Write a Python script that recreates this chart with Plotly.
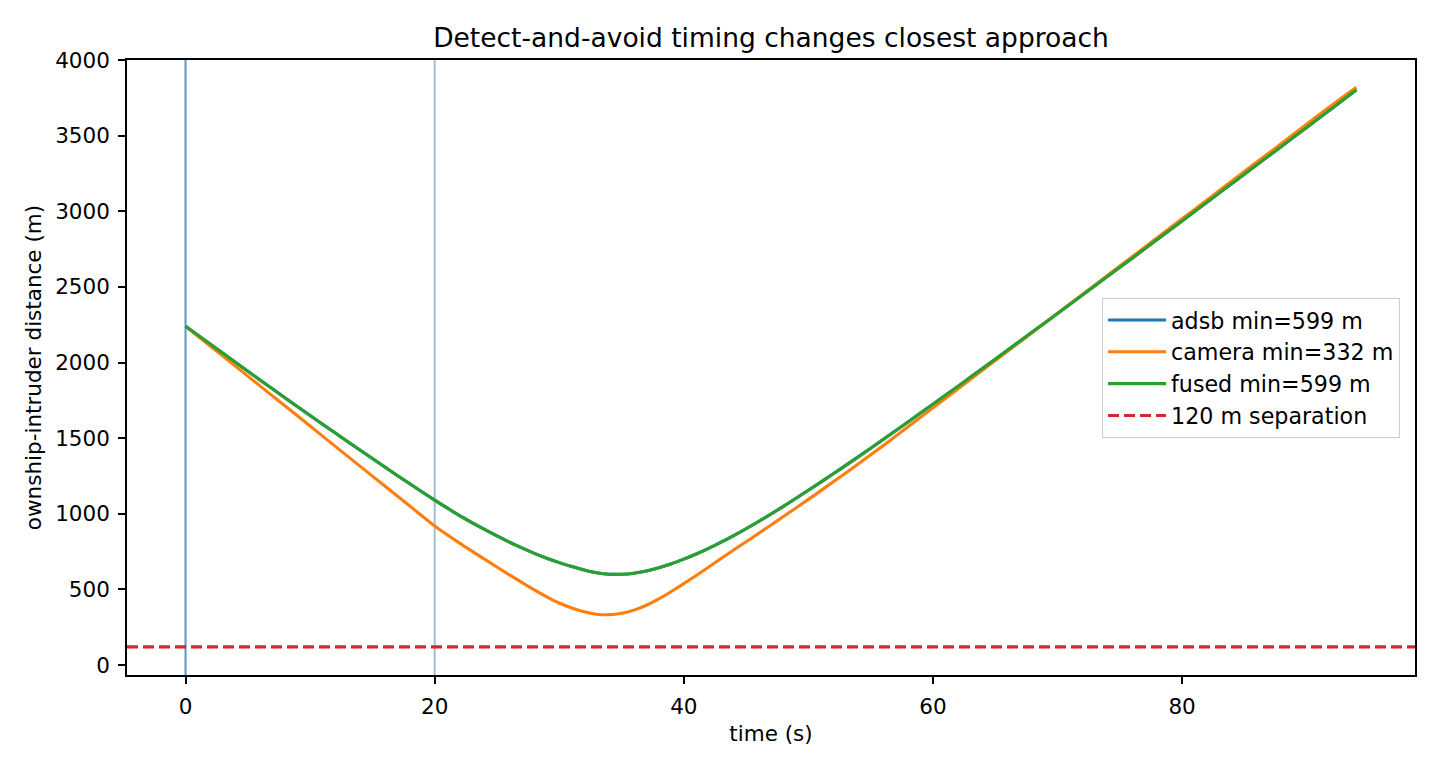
import plotly.graph_objects as go

# ---- data ----
time_s = ([0, 2, 4, 6, 8, 10, 12, 14, 16, 18, 20, 22, 24, 26]
          + [27, 28, 29, 30, 31, 32, 33, 34, 35, 36, 37, 38, 39, 40, 41, 42, 43]
          + [44, 46, 48, 50, 52, 54, 56, 58, 60, 62, 64, 66, 68, 70, 72, 74, 76,
             78, 80, 82, 84, 86, 88, 90, 92, 94])

adsb_m = ([2240, 2120, 2001, 1883, 1766, 1650, 1535, 1421, 1309, 1198, 1090, 988, 896, 812]
          + [774, 738, 706, 677, 651, 628, 610, 600, 600, 607, 622, 643, 669, 700, 734, 771, 812]
          + [855, 949, 1049, 1155, 1264, 1376, 1491, 1607, 1724, 1842, 1962, 2082, 2203,
             2324, 2446, 2568, 2690, 2813, 2936, 3060, 3183, 3307, 3430, 3554, 3678, 3804])

camera_m = ([2240, 2108, 1976, 1844, 1712, 1580, 1447, 1315, 1183, 1051, 919, 806, 700, 596]
            + [546, 497, 451, 410, 377, 352, 336, 333, 342, 363, 395, 437, 486, 538, 592, 648, 704]
            + [760, 870, 982, 1095, 1211, 1329, 1450, 1575, 1700, 1825, 1950, 2075, 2200,
               2325, 2450, 2575, 2700, 2825, 2950, 3075, 3200, 3325, 3450, 3575, 3700, 3820])

fused_m = ([2240, 2120, 2001, 1883, 1766, 1650, 1535, 1421, 1309, 1198, 1090, 988, 896, 812]
           + [774, 738, 706, 677, 651, 628, 610, 600, 600, 607, 622, 643, 669, 700, 734, 771, 812]
           + [855, 949, 1049, 1155, 1264, 1376, 1491, 1607, 1724, 1842, 1962, 2082, 2203,
              2324, 2446, 2568, 2690, 2813, 2936, 3060, 3183, 3307, 3430, 3554, 3678, 3804])

series_names = ["adsb", "camera", "fused"]
series_min_m = [599, 332, 599]
detect_time_s = [0, 20, 0]          # adsb, camera, fused
separation_m = 120

x_ticks = [0, 20, 40, 60, 80]
y_ticks = [0, 500, 1000, 1500, 2000, 2500, 3000, 3500, 4000]

# ---- style ----
colors = ["#1f77b4", "#ff7f0e", "#2ca02c"]
FONT = "DejaVu Sans"
FS = 21.5

fig = go.Figure()
for name, vals, mn, col in zip(series_names, [adsb_m, camera_m, fused_m], series_min_m, colors):
    fig.add_trace(go.Scatter(
        x=time_s, y=vals, mode="lines",
        name=f"{name} min={mn} m",
        line=dict(color=col, width=3.1, shape="spline", smoothing=0.7),
    ))

# detection-time markers
for t in detect_time_s:
    fig.add_shape(type="line", xref="x", yref="paper", x0=t, x1=t, y0=0, y1=1,
                  line=dict(color="#1f77b4", width=2), opacity=0.45, layer="below")

# separation threshold
fig.add_shape(type="line", xref="paper", yref="y", x0=0, x1=1,
              y0=separation_m, y1=separation_m,
              line=dict(color="#d62728", width=3.1, dash="11px,5px"),
              layer="above", name="120 m separation", showlegend=True)

axis_common = dict(
    showline=True, linecolor="black", linewidth=1.7, mirror=True,
    ticks="outside", ticklen=7, tickwidth=1.7, tickcolor="black",
    showgrid=False, zeroline=False,
    tickfont=dict(family=FONT, size=FS, color="black"),
    ticklabelstandoff=4,
)

fig.update_layout(
    width=1440, height=768,
    margin=dict(l=127, r=25, t=60, b=93),
    paper_bgcolor="white", plot_bgcolor="white",
    font=dict(family=FONT, size=FS, color="black"),
    title=dict(text="Detect-and-avoid timing changes closest approach",
               x=0.5, xref="paper", xanchor="center",
               y=1 - 38 / 768, yref="container", yanchor="middle",
               font=dict(family=FONT, size=26.5, color="black")),
    xaxis=dict(range=[-4.7, 98.7], tickvals=x_ticks,
               title=dict(text="time (s)", standoff=8,
                          font=dict(family=FONT, size=FS, color="black")),
               **axis_common),
    yaxis=dict(range=[-66, 4000], tickvals=y_ticks,
               title=dict(text="ownship-intruder distance (m)", standoff=8,
                          font=dict(family=FONT, size=FS, color="black")),
               **axis_common),
    legend=dict(x=0.757, y=0.613, xanchor="left", yanchor="top",
                bgcolor="rgba(255,255,255,0.8)", bordercolor="#cccccc", borderwidth=1,
                font=dict(family=FONT, size=22.2, color="black"),
                itemwidth=58, tracegroupgap=0),
    showlegend=True,
)

fig.write_html("out.html")
